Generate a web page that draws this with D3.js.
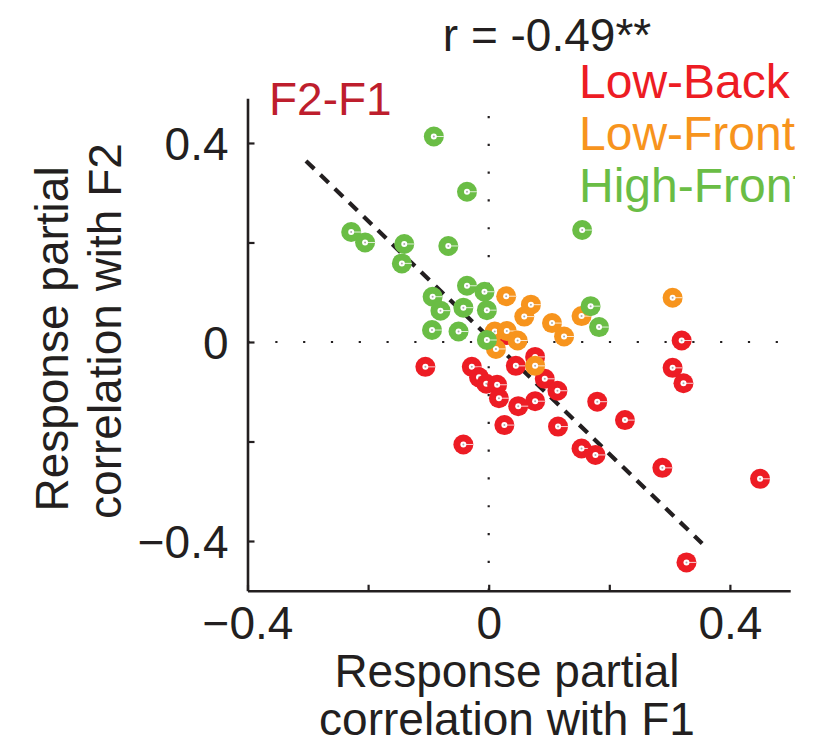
<!DOCTYPE html>
<html>
<head>
  <meta charset="utf-8">
  <title>F2-F1 partial correlations</title>
  <script src="https://cdn.jsdelivr.net/npm/d3@7"></script>
  <style>
    body { margin: 0; background: #fff; }
    text { font-family: "Liberation Sans", Arial, Helvetica, sans-serif; }
  </style>
</head>
<body>
  <svg width="828" height="746"></svg>
</body>
<script>

// partial correlation of response with F1 (x) and F2 (y), per group
const redX = [-0.105, -0.028, -0.016, -0.004, 0.014, 0.017, 0.045, 0.077, 0.029, 0.093, 0.114, 0.077, 0.049,
  0.026, 0.115, 0.180, -0.042, 0.154, 0.177, 0.226, 0.320, 0.305, 0.323, 0.288, 0.450, 0.328];
const redY = [-0.050, -0.050, -0.071, -0.084, -0.086, -0.113, -0.048, -0.030, 0.014, -0.074, -0.098, -0.119, -0.129,
  -0.167, -0.170, -0.120, -0.206, -0.214, -0.227, -0.157, 0.003, -0.052, -0.083, -0.253, -0.275, -0.443];

const orangeX = [0.029, 0.070, 0.059, 0.105, 0.125, 0.154, 0.305, 0.010, 0.030, 0.048, 0.012, 0.077];
const orangeY = [0.092, 0.075, 0.051, 0.038, 0.011, 0.052, 0.089, 0.021, 0.022, 0.003, -0.014, -0.048];

const greenX = [-0.091, -0.036, -0.228, -0.205, -0.140, -0.144, -0.067, 0.155, -0.036, -0.007, -0.093, -0.080,
  -0.042, -0.003, -0.094, -0.050, -0.003, 0.169, 0.183];
const greenY = [0.413, 0.302, 0.221, 0.200, 0.197, 0.158, 0.193, 0.225, 0.113, 0.101, 0.091, 0.063,
  0.069, 0.064, 0.024, 0.021, 0.004, 0.072, 0.030];

// regression line end points
const fitX = [-0.303, 0.354];
const fitY = [0.364, -0.405];

const xTicks = [-0.4, -0.2, 0, 0.2, 0.4];
const yTicks = [-0.4, -0.2, 0, 0.2, 0.4];
const labelled = [-0.4, 0, 0.4];

const groups = ['Low-Back', 'Low-Front', 'High-Front'];
const colors = ['#ED1C24', '#F7941D', '#6ABD45'];

const ink = '#231F20';

let svg = d3.select('svg');

let x = d3.scaleLinear().domain([-0.4, 0.5]).range([247.5, 790.2]);
let y = d3.scaleLinear().domain([-0.5, 0.49]).range([590.75, 98.2]);

let fmt = v => v === 0 ? '0' : (v < 0 ? '\u2212' : '') + Math.abs(v).toFixed(1);

// zero lines (dotted)
svg.append('line')
  .attr('x1', x(0)).attr('x2', x(0))
  .attr('y1', y.range()[0]).attr('y2', y.range()[1])
  .style('stroke', ink).style('stroke-width', 2.2)
  .style('stroke-dasharray', '2.2,25.6');
svg.append('line')
  .attr('x1', x.range()[0]).attr('x2', x.range()[1])
  .attr('y1', y(0)).attr('y2', y(0))
  .style('stroke', ink).style('stroke-width', 2.2)
  .style('stroke-dasharray', '2.2,25.6');

// axes, MATLAB style ticks pointing inwards
let xAxis = svg.append('g')
  .attr('transform', 'translate(0,' + y.range()[0] + ')')
  .call(d3.axisBottom(x).tickValues(xTicks).tickSizeInner(-6).tickSizeOuter(0)
    .tickPadding(16).tickFormat(d => labelled.includes(d) ? fmt(d) : ''));

let yAxis = svg.append('g')
  .attr('transform', 'translate(' + x.range()[0] + ',0)')
  .call(d3.axisLeft(y).tickValues(yTicks).tickSizeInner(-7).tickSizeOuter(0)
    .tickPadding(19).tickFormat(d => labelled.includes(d) ? fmt(d) : ''));

[xAxis, yAxis].forEach(g => {
  g.select('.domain').style('stroke', ink).style('stroke-width', 2.6);
  g.selectAll('.tick line').style('stroke', ink).style('stroke-width', 2.2);
  g.selectAll('.tick text').style('fill', ink).style('font-size', '46px')
    .style('font-family', '"Liberation Sans", Arial, sans-serif');
});
xAxis.selectAll('.tick text').attr('dy', '0.71em');
yAxis.selectAll('.tick text').attr('dy', '0.36em');

// regression line
svg.append('line')
  .attr('x1', x(fitX[0])).attr('y1', y(fitY[0]))
  .attr('x2', x(fitX[1])).attr('y2', y(fitY[1]))
  .style('stroke', ink).style('stroke-width', 4.2)
  .style('stroke-dasharray', '11.5,8.5');

// points
let drawGroup = (xs, ys, color) => {
  xs.forEach((v, i) => {
    let cx = x(v), cy = y(ys[i]);
    let g = svg.append('g');
    g.append('circle').attr('cx', cx).attr('cy', cy).attr('r', 10).style('fill', color);
    g.append('line').attr('x1', cx).attr('x2', cx + 10).attr('y1', cy).attr('y2', cy)
      .style('stroke', '#fff').style('stroke-width', 1).style('opacity', 0.8);
    g.append('circle').attr('cx', cx).attr('cy', cy).attr('r', 3).style('fill', '#fff');
    g.append('circle').attr('cx', cx).attr('cy', cy).attr('r', 1).style('fill', '#aaa');
  });
};
drawGroup(redX, redY, colors[0]);
drawGroup(orangeX, orangeY, colors[1]);
drawGroup(greenX, greenY, colors[2]);

// texts
svg.append('text').attr('x', 547).attr('y', 51).attr('text-anchor', 'middle')
  .style('font-size', '46px').style('fill', ink).text('r = -0.49**');

svg.append('text').attr('x', 269).attr('y', 115)
  .style('font-size', '46px').style('fill', '#BE1E2D').text('F2-F1');

svg.append('clipPath').attr('id', 'legclip')
  .append('rect').attr('x', 0).attr('y', 0).attr('width', 795).attr('height', 746);

let leg = svg.append('g').attr('clip-path', 'url(#legclip)');
groups.forEach((name, i) => {
  leg.append('text').attr('x', 579).attr('y', 98 + i * 52)
    .style('font-size', '48px').style('fill', colors[i]).text(name);
});

// axis titles
svg.append('text').attr('x', 507).attr('y', 687).attr('text-anchor', 'middle')
  .style('font-size', '46px').style('fill', ink).text('Response partial');
svg.append('text').attr('x', 507).attr('y', 735).attr('text-anchor', 'middle')
  .style('font-size', '46px').style('fill', ink).text('correlation with F1');

svg.append('text').attr('transform', 'translate(68,339) rotate(-90)').attr('text-anchor', 'middle')
  .style('font-size', '46px').style('fill', ink).text('Response partial');
svg.append('text').attr('transform', 'translate(121,331) rotate(-90)').attr('text-anchor', 'middle')
  .style('font-size', '46px').style('fill', ink).text('correlation with F2');

</script>
</html>
